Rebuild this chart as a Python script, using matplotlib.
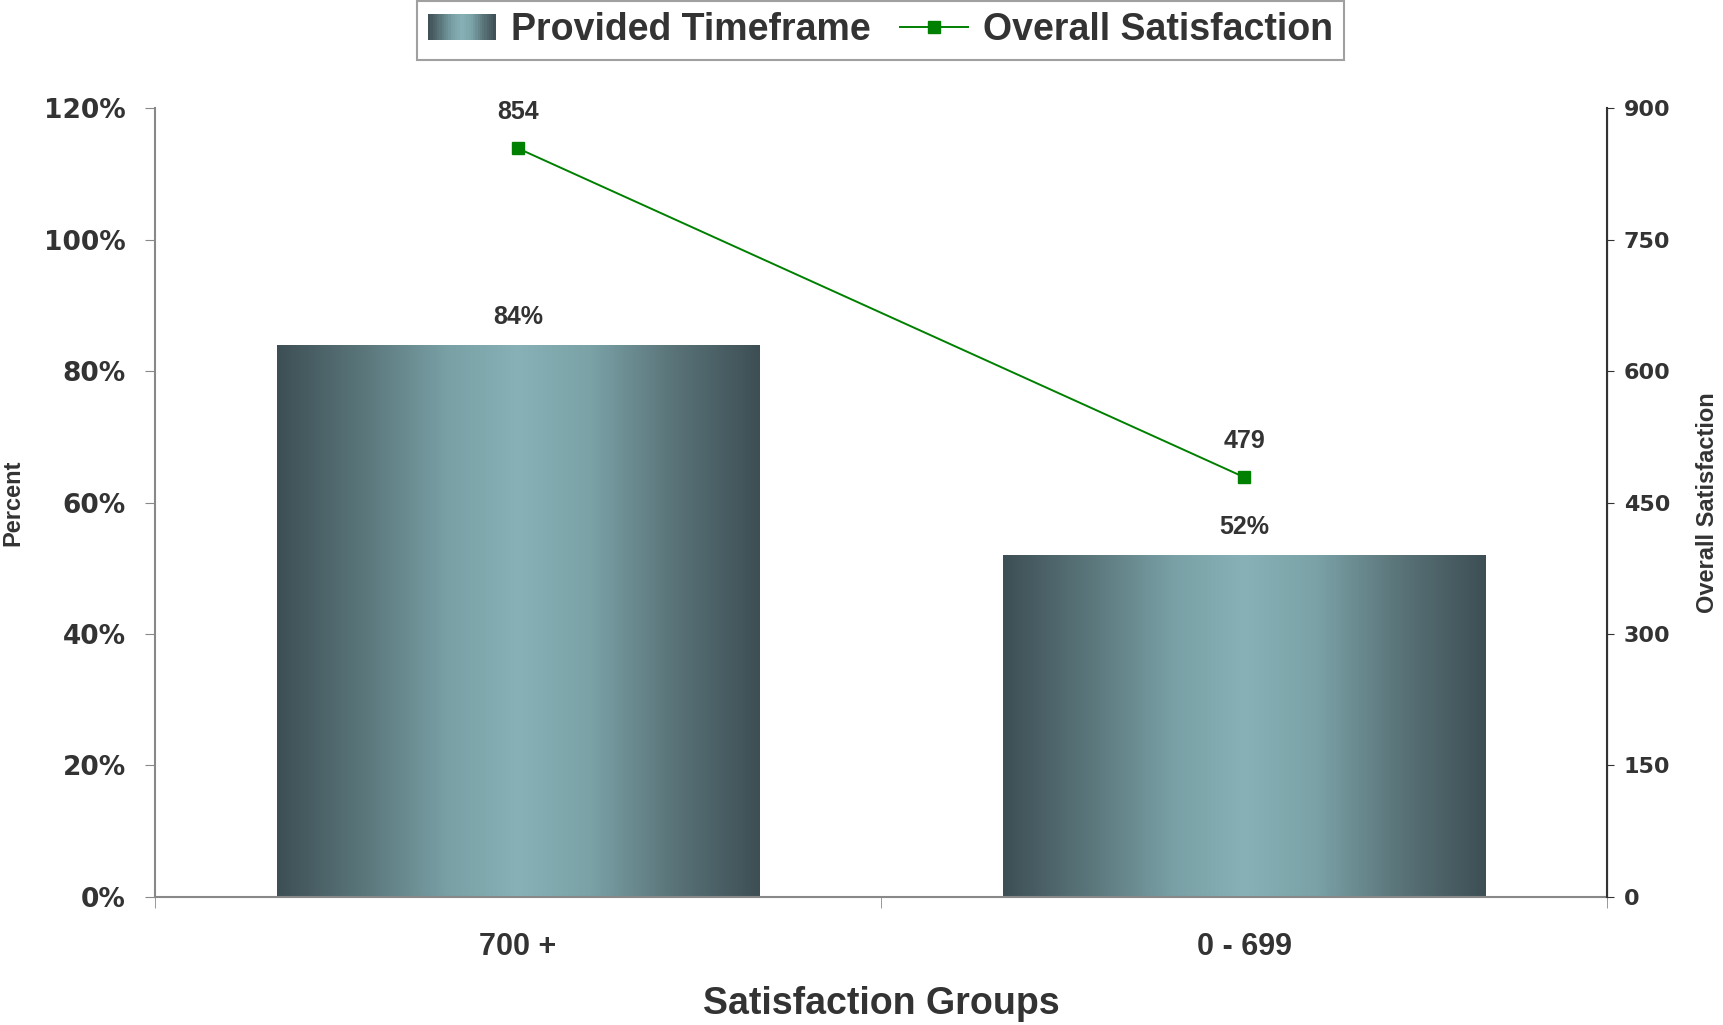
import numpy as np
import matplotlib
matplotlib.use('Agg')
import matplotlib.pyplot as plt
from matplotlib.colors import LinearSegmentedColormap
from matplotlib.patches import Rectangle
from matplotlib.legend_handler import HandlerBase
from matplotlib.lines import Line2D

# ---- data ----
groups = ['700 +', '0 - 699']
timeframe_pct = [84, 52]
overall_sat = [854, 479]
pct_ticks = [0, 20, 40, 60, 80, 100, 120]
sat_ticks = [0, 150, 300, 450, 600, 750, 900]

plt.rcParams['font.family'] = ['Liberation Sans', 'DejaVu Sans']
plt.rcParams['font.weight'] = 'bold'
TXT = '#333333'

bar_cmap = LinearSegmentedColormap.from_list('steel', [
    (0.0, '#3d4f55'), (0.2, '#5e7b80'), (0.35, '#78a0a5'),
    (0.5, '#87b1b7'), (0.65, '#7aa2a7'), (0.82, '#5a7479'), (1.0, '#3d4f55')])


class GradientHandler(HandlerBase):
    def create_artists(self, legend, orig_handle, xdescent, ydescent,
                       width, height, fontsize, trans):
        n = 30
        arts = []
        for i in range(n):
            r = Rectangle((-xdescent + i * width / n, -ydescent), width / n * 1.1, height,
                          facecolor=bar_cmap((i + 0.5) / n), edgecolor='none',
                          transform=trans)
            arts.append(r)
        return arts


fig = plt.figure(figsize=(17.23, 10.25), dpi=100)
ax = fig.add_axes([0.0899, 0.1249, 0.8428, 0.7697])
ax2 = ax.twinx()

x = np.arange(len(groups))
bars = ax.bar(x, timeframe_pct, width=0.665, color='none', edgecolor='none')
grad = np.linspace(0, 1, 256).reshape(1, -1)
for b in bars:
    im = ax.imshow(grad, extent=[b.get_x(), b.get_x() + b.get_width(), 0, b.get_height()],
                   aspect='auto', cmap=bar_cmap, zorder=2)
    im.set_clip_path(b)
    ax.annotate(f'{b.get_height():.0f}%', (b.get_x() + b.get_width() / 2, b.get_height()),
                xytext=(0, 20), textcoords='offset points', ha='center', va='center',
                fontsize=18, fontweight='bold', color=TXT)

ax.set_xlim(-0.5, 1.5)
ax.set_ylim(0, 120)
ax.set_yticks(pct_ticks)
ax.set_yticklabels([f'{t}%' for t in pct_ticks], family='DejaVu Sans', fontsize=19,
                   fontweight='bold', color=TXT)
ax.set_xticks(x)
ax.set_xticklabels(groups, fontsize=22, fontweight='bold', color=TXT)
ax.set_xticks([-0.5, 0.5, 1.5], minor=True)
ax.tick_params(axis='x', which='major', length=0, pad=25)
ax.tick_params(axis='x', which='minor', length=8, color='#888888', direction='out')
ax.tick_params(axis='y', length=7, color='#888888', pad=14, direction='out')

ax2.plot(x, overall_sat, color='#008000', linewidth=1.4, marker='s', markersize=8,
         markerfacecolor='#008000', markeredgecolor='#008000', zorder=3)
for xi, v in zip(x, overall_sat):
    ax2.annotate(f'{v}', (xi, v), xytext=(0, 26), textcoords='offset points',
                 ha='center', va='center', fontsize=18, fontweight='bold', color=TXT)
ax2.set_ylim(0, 900)
ax2.set_yticks(sat_ticks)
ax2.set_yticklabels([str(t) for t in sat_ticks], family='DejaVu Sans', fontsize=16,
                    fontweight='bold', color=TXT)
ax2.tick_params(axis='y', length=5, color='#333333', pad=7, direction='out')

for a in (ax, ax2):
    a.spines['top'].set_visible(False)
ax.spines['left'].set_color('#888888')
ax.spines['left'].set_linewidth(1.5)
ax.spines['bottom'].set_color('#888888')
ax.spines['bottom'].set_linewidth(1.5)
ax2.spines['left'].set_visible(False)
ax2.spines['bottom'].set_visible(False)
ax2.spines['right'].set_color('#333333')
ax2.spines['right'].set_linewidth(1.5)

# axis titles placed in figure coordinates
fig.text(13 / 1723, 0.5 * (0.1249 + 0.8946), 'Percent', rotation=90, ha='center', va='center',
         fontsize=17, fontweight='bold', color=TXT)
fig.text(1707 / 1723, 0.5 * (0.1249 + 0.8946), 'Overall Satisfaction', rotation=90,
         ha='center', va='center', fontsize=17, fontweight='bold', color=TXT)
fig.text(0.5 * (0.0899 + 0.9327), 1 - 1004 / 1025, 'Satisfaction Groups', ha='center',
         va='center', fontsize=27, fontweight='bold', color=TXT)

bar_handle = Rectangle((0, 0), 1, 1)
line_handle = Line2D([], [], color='#008000', linewidth=1.4, marker='s', markersize=8)
leg = fig.legend([bar_handle, line_handle], ['Provided Timeframe', 'Overall Satisfaction'],
                 handler_map={Rectangle: GradientHandler()},
                 loc='upper center', bbox_to_anchor=(0.511, 0.999), ncol=2,
                 fontsize=27, frameon=True, fancybox=False, borderpad=0.3,
                 borderaxespad=0, handlelength=1.8, handletextpad=0.4, columnspacing=0.8)
leg.get_frame().set_edgecolor('#888888')
leg.get_frame().set_linewidth(1.5)
for t in leg.get_texts():
    t.set_color(TXT)
    t.set_fontweight('bold')

fig.savefig('out.png', dpi=100)
